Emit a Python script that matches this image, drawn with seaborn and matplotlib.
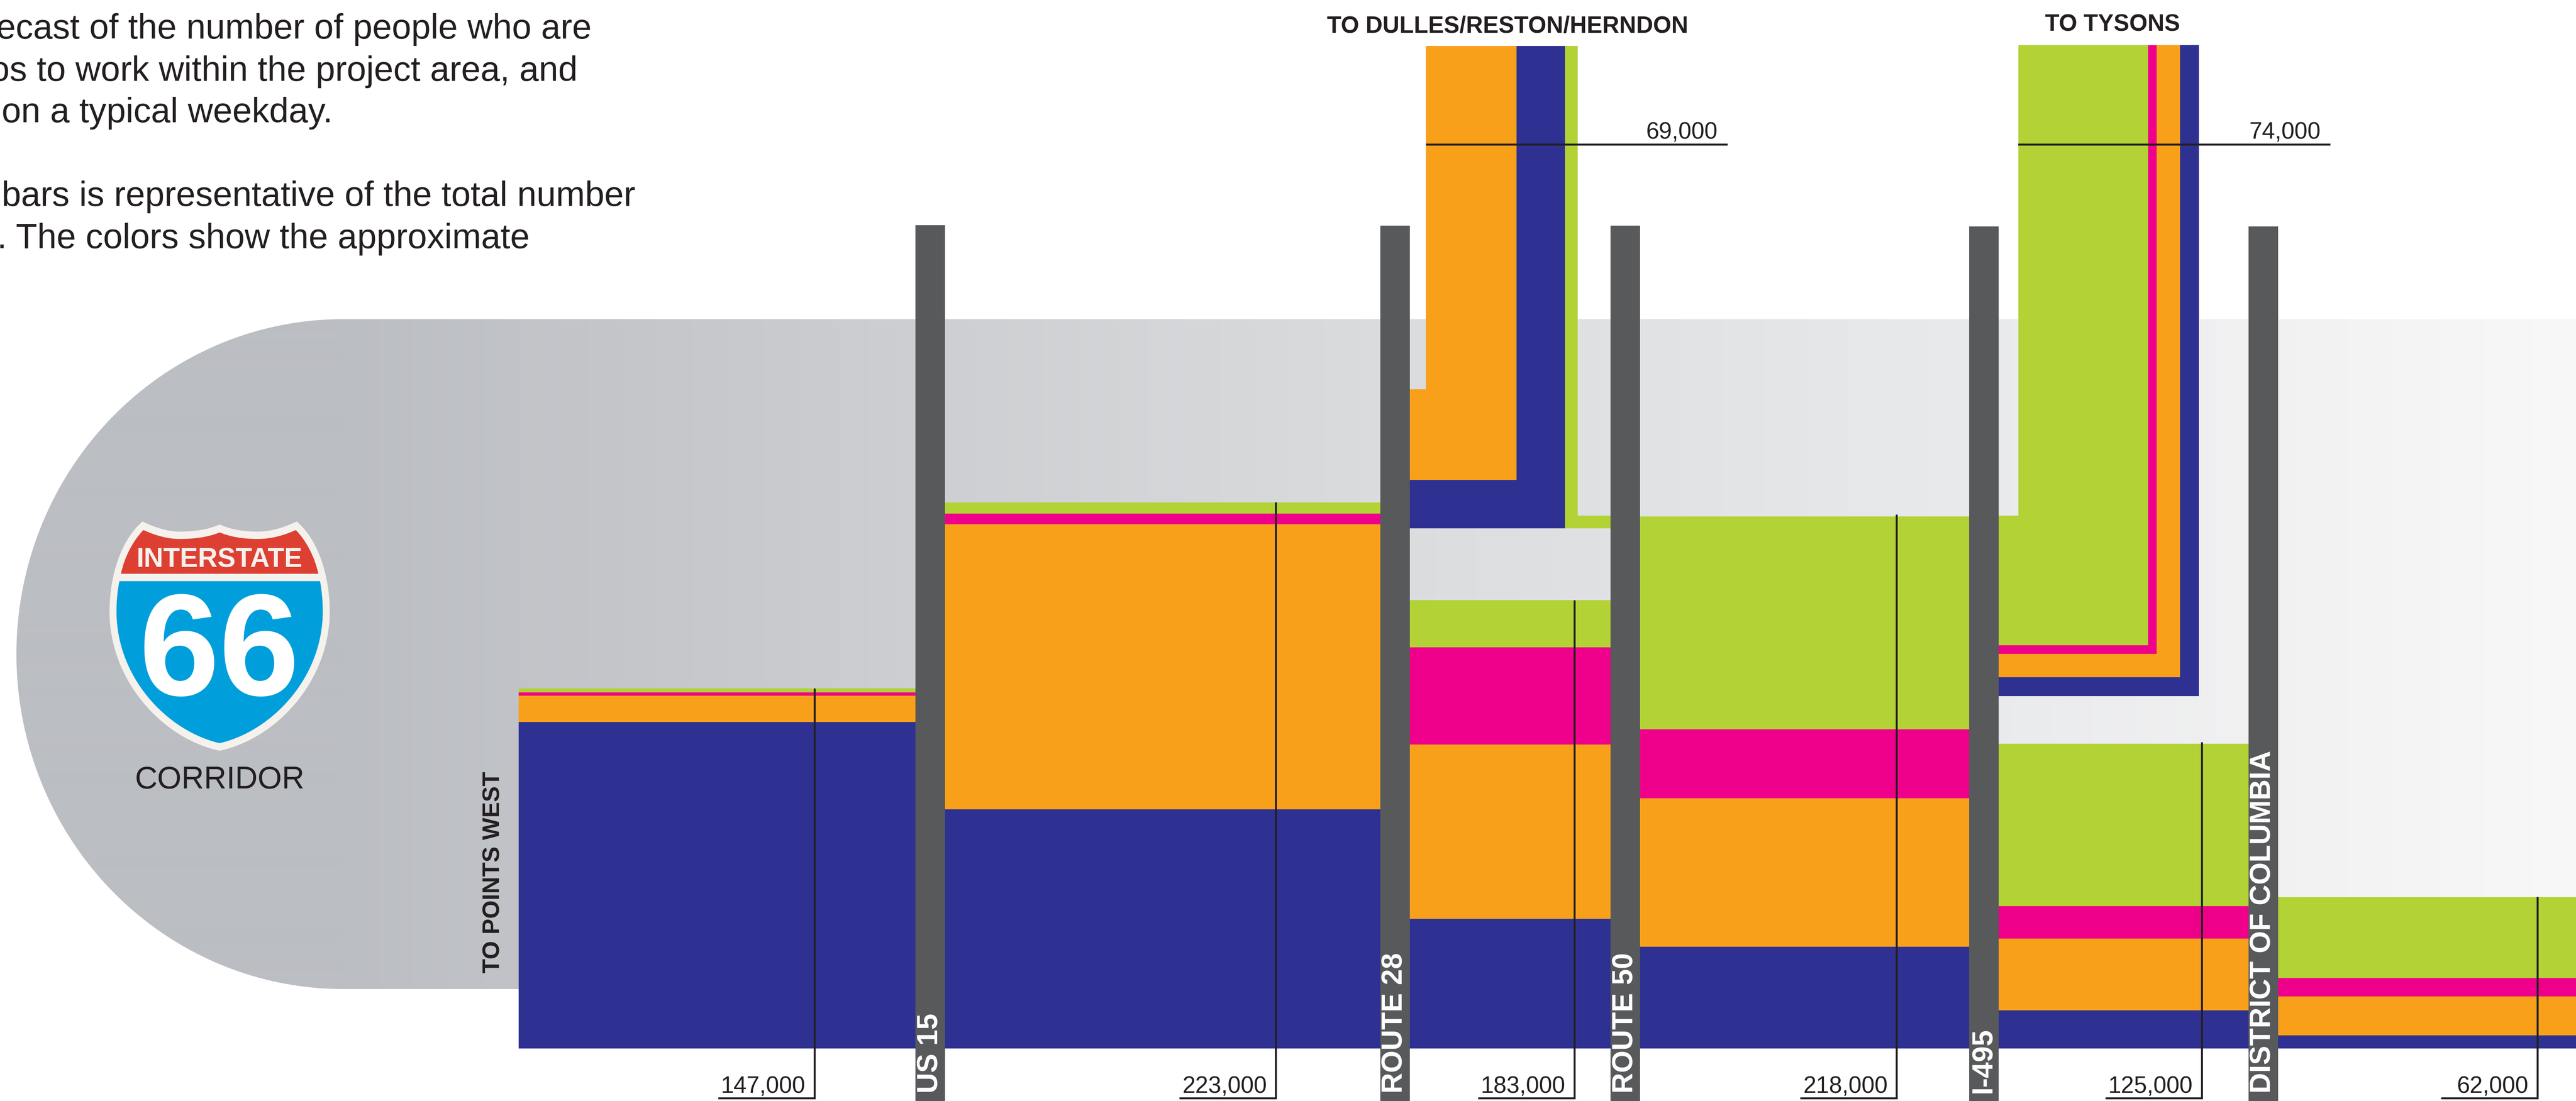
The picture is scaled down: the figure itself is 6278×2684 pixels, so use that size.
import numpy as np
import pandas as pd
import matplotlib
matplotlib.use("Agg")
import matplotlib.pyplot as plt
from matplotlib.path import Path
from matplotlib.patches import PathPatch
import seaborn as sns

# ---------- data (daily trips) ----------
modes = ["Transit", "Carpool", "Bike/Walk", "Drive"]
section_names = ["West of US 15", "US 15-Route 28", "Route 28-Route 50",
                 "Route 50-I-495", "I-495-DC", "Into DC"]
green_vals = [1700, 4500, 19200, 86900, 66300, 33000]
pink_vals = [1300, 4400, 39700, 28100, 13200, 7500]
orange_vals = [10700, 116400, 71200, 60600, 29300, 15900]
navy_vals = [133300, 97600, 52900, 41500, 15600, 5400]
total_labels = ["147,000", "223,000", "183,000", "218,000", "125,000", "62,000"]
total_vals = [147000, 223000, 183000, 218000, 125000, 62000]

dulles_vals = [37000, 19800, 5200]   # orange, navy, green
tysons_vals = [52900, 3500, 9500, 7700]  # green, pink, orange, navy
dulles_label = "69,000"
tysons_label = "74,000"

post_names = ["US 15", "ROUTE 28", "ROUTE 50", "I-495", "DISTRICT OF COLUMBIA"]

body_lines = ["ecast of the number of people who are",
              "os to work within the project area, and",
              "on a typical weekday.",
              "bars is representative of the total number",
              ". The colors show the approximate"]

# ---------- layout ----------
W, H = 6278, 2684
K = 878 / 147000        # pixels per person
BASE = 2556
NAVY, ORANGE, PINK, GREEN = "#2E3192", "#F9A01B", "#EE008A", "#B2D235"
POST = "#58595B"
INK = "#231F20"
SANS = ["Liberation Sans", "DejaVu Sans"]
NARROW = ["Liberation Sans Narrow", "Liberation Sans", "DejaVu Sans"]


def yp(py):
    """pixel row -> people on the y axis"""
    return (BASE - np.asarray(py, dtype=float)) / K


def pt(px):
    return px * 0.72


sns.set_theme(style="white")
fig = plt.figure(figsize=(W / 100, H / 100), dpi=100, facecolor="white")
ax = fig.add_axes([0, 0, 1, 1])
ax.set_axis_off()

# ---------- corridor band with gradient ----------
t = np.linspace(np.pi / 2, 3 * np.pi / 2, 200)
cx, rx, cy, ry = 836, 796, 1594.5, 816.5
bx = np.r_[cx + rx * np.cos(t), W, W]
by = np.r_[cy - ry * np.sin(t), cy + ry, cy - ry]
band = PathPatch(Path(np.c_[bx, yp(by)], closed=False), fc="none", ec="none",
                 transform=ax.transData)
ax.add_patch(band)
stops_x = [0, 836, 2200, 3400, 4800, 5500, 6278]
stops_g = [(0xBB, 0xBE, 0xC3), (0xBB, 0xBE, 0xC3), (0xCD, 0xCE, 0xD1),
           (0xDB, 0xDC, 0xDE), (0xE9, 0xEA, 0xEC), (0xF1, 0xF1, 0xF2),
           (0xF8, 0xF8, 0xF8)]
cols = np.arange(W)
grad = np.stack([np.interp(cols, stops_x, [s[i] for s in stops_g]) for i in range(3)],
                axis=-1)[None, :, :] / 255
im = ax.imshow(grad, extent=[0, W, yp(2411), yp(778)], aspect="auto", zorder=0,
               interpolation="bilinear")
im.set_clip_path(band)

# ---------- main stacked sections ----------
edges = [1264, 2267, 3400, 3960, 4835, 5516, W]
mids = [(a + b) / 2 for a, b in zip(edges[:-1], edges[1:])]
rows = []
for name, vals in zip(["green", "pink", "orange", "navy"],
                      [green_vals, pink_vals, orange_vals, navy_vals]):
    for m, v in zip(mids, vals):
        rows.append({"x": m, "people": v, "mode": name})
df = pd.DataFrame(rows)
sns.histplot(df, x="x", weights="people", hue="mode", multiple="stack", bins=edges,
             hue_order=["green", "pink", "orange", "navy"],
             palette={"green": GREEN, "pink": PINK, "orange": ORANGE, "navy": NAVY},
             alpha=1, linewidth=0, legend=False, ax=ax, zorder=2)


# ---------- branch streams ----------
def turn_left(x0, vals, colors, y_start, top, xend):
    x, y = x0, y_start
    for v, c in zip(vals, colors):
        w = v * K
        xs = [x, x + w, x + w, xend, xend, x]
        ys = [top, top, y + w, y + w, y, y]
        ax.fill(xs, yp(ys), color=c, lw=0, zorder=3)
        x += w
        y += w
    return x, y


xr, yb = turn_left(3475, dulles_vals[:2], [ORANGE, NAVY], 949, 112, 3435)
gw = dulles_vals[2] * K
ax.fill([xr, xr + gw, xr + gw, 3925, 3925, xr],
        yp([112, 112, yb - gw, yb - gw, yb, yb]), color=GREEN, lw=0, zorder=3)
turn_left(4919, tysons_vals, [GREEN, PINK, ORANGE, NAVY], 1257, 110, 4871)

# ---------- posts ----------
post_x = [2231, 3364, 3925, 4799, 5480]
post_top = [549, 550, 550, 552, 552]
post_w = 72
ax.bar([p + post_w / 2 for p in post_x], [yp(t_) - yp(H) for t_ in post_top],
       width=post_w, bottom=yp(H), color=POST, lw=0, zorder=4)
for p, name in zip(post_x, post_names):
    ax.text(p + post_w / 2, yp(2665), name, rotation=90, ha="center", va="bottom",
            color="white", fontsize=pt(70), fontweight="bold", family=SANS, zorder=6)

# ---------- leader lines and totals ----------
line_x = [1985, 3109, 3837, 4622, 5366, 6184]
LW = 3.4
for lx, total, lab in zip(line_x, total_vals, total_labels):
    ax.plot([lx, lx, lx - 235], [total, yp(2677), yp(2677)], color=INK, lw=LW,
            solid_joinstyle="miter", solid_capstyle="butt", zorder=5)
    ax.text(lx - 22, yp(2665), lab, ha="right", va="baseline", color=INK,
            fontsize=pt(57), family=SANS, zorder=6)

for x0, x1, lab, xt in [(3475, 4210, dulles_label, 4186),
                        (4918, 5679, tysons_label, 5655)]:
    ax.plot([x0, x1], yp([352, 352]), color=INK, lw=LW, solid_capstyle="butt", zorder=5)
    ax.text(xt, yp(338), lab, ha="right", va="baseline", color=INK,
            fontsize=pt(57), family=SANS, zorder=6)

ax.text(3674, yp(80), "TO DULLES/RESTON/HERNDON", ha="center", va="baseline",
        color=INK, fontsize=pt(57.2), fontweight="bold", family=SANS, zorder=6)
ax.text(5148, yp(75), "TO TYSONS", ha="center", va="baseline",
        color=INK, fontsize=pt(57.2), fontweight="bold", family=SANS, zorder=6)
ax.text(1202, yp(2372), "TO POINTS WEST", rotation=90, ha="center", va="bottom",
        color=INK, fontsize=pt(57.5), fontweight="bold", family=SANS, zorder=6)

# ---------- body text, cut by the left edge ----------
for line, base, right in zip(body_lines, [94, 197, 298, 502, 605],
                             [1442, 1408, 811, 1548, 1291]):
    ax.text(right, yp(base), line, ha="right", va="baseline", color=INK,
            fontsize=pt(85), family=SANS, zorder=6)


# ---------- interstate shield ----------
def sx(z):
    return 200 + z / 2.24


def sy(z):
    return 1200 + z / 2.063


def shield(points, color):
    verts, codes = [], []
    for i, (kind, *p) in enumerate(points):
        pts = [(sx(a), yp(sy(b))) for a, b in zip(p[::2], p[1::2])]
        verts += pts
        codes += {"M": [Path.MOVETO], "L": [Path.LINETO],
                  "C": [Path.CURVE4] * 3}[kind]
    verts.append(verts[0])
    codes.append(Path.CLOSEPOLY)
    ax.add_patch(PathPatch(Path(verts, codes), fc=color, ec="none", lw=0, zorder=1.5))


shield([("M", 330, 147), ("C", 400, 178, 470, 198, 530, 198),
        ("C", 620, 198, 690, 187, 751, 162), ("C", 812, 187, 880, 198, 960, 198),
        ("C", 1030, 198, 1100, 178, 1172, 147), ("C", 1290, 240, 1352, 420, 1352, 600),
        ("C", 1352, 950, 1060, 1240, 751, 1300), ("C", 442, 1240, 150, 950, 150, 600),
        ("C", 150, 420, 212, 240, 330, 147)], "#F5F1EC")
shield([("M", 335, 190), ("C", 400, 218, 470, 235, 530, 235),
        ("C", 620, 235, 690, 225, 751, 202), ("C", 812, 225, 880, 235, 960, 235),
        ("C", 1030, 235, 1100, 218, 1167, 190), ("C", 1225, 245, 1270, 325, 1290, 410),
        ("L", 212, 410), ("C", 232, 325, 277, 245, 335, 190)], "#DD4033")
shield([("M", 204, 447), ("L", 1299, 447), ("C", 1310, 500, 1314, 550, 1314, 600),
        ("C", 1314, 930, 1040, 1200, 751, 1262), ("C", 462, 1200, 188, 930, 188, 600),
        ("C", 188, 550, 192, 500, 204, 447)], "#009FDB")
ax.text(sx(751), yp(sy(376)), "INTERSTATE", ha="center", va="baseline", color="#F5F1EC",
        fontsize=pt(66), fontweight="bold", family=NARROW, zorder=6)
ax.text(sx(747), yp(sy(1022)), "66", ha="center", va="baseline", color="white",
        fontsize=pt(352), fontweight="bold", family=SANS, zorder=6)
ax.text(sx(751), yp(sy(1490)), "CORRIDOR", ha="center", va="baseline", color=INK,
        fontsize=pt(76), family=SANS, zorder=6)

ax.set_xlim(0, W)
ax.set_ylim(yp(H), yp(0))
ax.set_xlabel("")
ax.set_ylabel("")
fig.savefig("out.png", dpi=100)
